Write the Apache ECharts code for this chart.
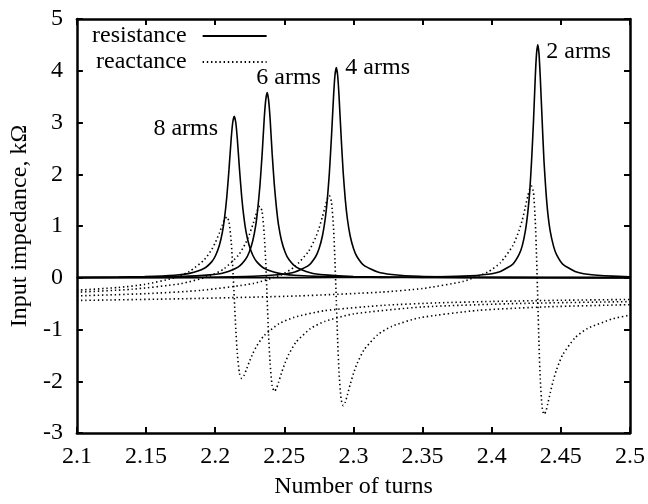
<!DOCTYPE html>
<html>
<head>
<meta charset="utf-8">
<script src="https://cdn.jsdelivr.net/npm/echarts@6/dist/echarts.min.js"></script>
<style>html,body{margin:0;padding:0;background:#fff}#c{width:648px;height:504px}</style>
</head>
<body>
<div id="c"></div>
<script>
const tickX = ['2.1','2.15','2.2','2.25','2.3','2.35','2.4','2.45','2.5'];
const tickY = ['-3','-2','-1','0','1','2','3','4','5'];

const turns8 = [2.1, 2.13, 2.149, 2.1706, 2.1814, 2.1922, 2.1976, 2.2003, 2.203, 2.2052, 2.2068, 2.2084, 2.21, 2.2116, 2.2127, 2.2138, 2.2149, 2.216, 2.2176, 2.2192, 2.2208, 2.2224, 2.2246, 2.2273, 2.23, 2.2354, 2.2462, 2.257, 2.2786, 2.3218, 2.36, 2.4, 2.45, 2.5];
const res8 = [0.007, 0.013, 0.022, 0.048, 0.084, 0.183, 0.312, 0.430, 0.624, 0.876, 1.160, 1.560, 2.094, 2.690, 3.000, 3.120, 3.000, 2.690, 2.094, 1.560, 1.160, 0.876, 0.624, 0.430, 0.312, 0.183, 0.084, 0.048, 0.022, 0.008, 0.004, 0.003, 0.002, 0.001];
const rea8 = [-0.242, -0.188, -0.128, -0.001, 0.122, 0.350, 0.552, 0.692, 0.864, 1.018, 1.124, 1.176, 1.082, 0.692, 0.216, -0.384, -0.984, -1.460, -1.850, -1.944, -1.892, -1.786, -1.632, -1.460, -1.320, -1.117, -0.888, -0.766, -0.638, -0.533, -0.486, -0.458, -0.435, -0.419];

const turns6 = [2.1, 2.14, 2.1752, 2.196, 2.2064, 2.2168, 2.222, 2.2246, 2.2272, 2.2293, 2.2308, 2.2324, 2.234, 2.2355, 2.2366, 2.2376, 2.2386, 2.2397, 2.2412, 2.2428, 2.2444, 2.2459, 2.248, 2.2506, 2.2532, 2.2584, 2.2688, 2.2792, 2.3, 2.35, 2.42, 2.5];
const res6 = [0.005, 0.010, 0.025, 0.055, 0.097, 0.211, 0.358, 0.494, 0.716, 1.006, 1.331, 1.790, 2.403, 3.086, 3.442, 3.580, 3.442, 3.086, 2.403, 1.790, 1.331, 1.006, 0.716, 0.494, 0.358, 0.211, 0.097, 0.055, 0.025, 0.008, 0.003, 0.001];
const rea6 = [-0.280, -0.222, -0.114, 0.033, 0.174, 0.435, 0.667, 0.827, 1.025, 1.202, 1.323, 1.383, 1.275, 0.827, 0.281, -0.406, -1.094, -1.640, -2.088, -2.196, -2.136, -2.015, -1.838, -1.640, -1.480, -1.247, -0.985, -0.844, -0.699, -0.564, -0.497, -0.461];

const turns4 = [2.1, 2.15, 2.19, 2.2276, 2.2476, 2.2576, 2.2676, 2.2726, 2.2751, 2.2776, 2.2796, 2.2811, 2.2826, 2.2841, 2.2856, 2.2866, 2.2876, 2.2886, 2.2896, 2.2911, 2.2926, 2.2941, 2.2956, 2.2976, 2.3001, 2.3026, 2.3076, 2.3176, 2.3276, 2.3476, 2.39, 2.44, 2.5];
const res4 = [0.003, 0.005, 0.011, 0.028, 0.063, 0.110, 0.239, 0.406, 0.560, 0.812, 1.140, 1.509, 2.030, 2.725, 3.500, 3.904, 4.060, 3.904, 3.500, 2.725, 2.030, 1.509, 1.140, 0.812, 0.560, 0.406, 0.239, 0.110, 0.063, 0.028, 0.010, 0.004, 0.002];
const rea4 = [-0.350, -0.307, -0.243, -0.111, 0.055, 0.215, 0.512, 0.775, 0.957, 1.181, 1.382, 1.519, 1.587, 1.464, 0.957, 0.338, -0.442, -1.223, -1.842, -2.349, -2.472, -2.404, -2.267, -2.066, -1.842, -1.660, -1.396, -1.099, -0.940, -0.774, -0.631, -0.562, -0.520];

const turns2 = [2.1, 2.18, 2.26, 2.32, 2.35, 2.3793, 2.3973, 2.4063, 2.4153, 2.4198, 2.4221, 2.4243, 2.4261, 2.4275, 2.4288, 2.4302, 2.4315, 2.4324, 2.4333, 2.4342, 2.4351, 2.4365, 2.4378, 2.4392, 2.4405, 2.4423, 2.4446, 2.4468, 2.4513, 2.4603, 2.4693, 2.4873, 2.5];
const res2 = [0.001, 0.001, 0.003, 0.007, 0.013, 0.031, 0.069, 0.122, 0.265, 0.450, 0.621, 0.900, 1.264, 1.673, 2.250, 3.020, 3.879, 4.327, 4.500, 4.327, 3.879, 3.020, 2.250, 1.673, 1.264, 0.900, 0.621, 0.450, 0.265, 0.122, 0.069, 0.031, 0.020];
const rea2 = [-0.439, -0.404, -0.351, -0.278, -0.208, -0.071, 0.113, 0.291, 0.622, 0.914, 1.116, 1.365, 1.580, 1.715, 1.770, 1.650, 1.100, 0.425, -0.433, -1.290, -1.960, -2.510, -2.640, -2.580, -2.440, -2.225, -1.980, -1.782, -1.489, -1.158, -0.980, -0.795, -0.722];

const armLabels = ['8 arms', '6 arms', '4 arms', '2 arms'];
const armLabelX = [2.1787, 2.2531, 2.3175, 2.4628];
const armLabelY = [2.88, 3.87, 4.06, 4.37];

const FONT = 'Liberation Serif';
const pairs = (xs, ys) => xs.map((x, i) => [x, ys[i]]);

const solid = { color: '#000', width: 1.6, type: 'solid' };
const dotted = { color: '#000', width: 1.6, type: [1.4, 2.8] };

function lineSeries(name, data, style) {
  return {
    name: name, type: 'line', data: data, symbol: 'none', showSymbol: false,
    smooth: 0.2, lineStyle: style, itemStyle: { color: '#000' },
    xAxisIndex: 0, yAxisIndex: 0, silent: true, z: 3
  };
}

const axisLineStyle = { show: true, onZero: false, lineStyle: { color: '#000', width: 2.5 } };
const tickStyle = { show: true, inside: true, length: 6, lineStyle: { color: '#000', width: 2 } };
const labelStyle = { color: '#000', fontSize: 24, fontFamily: FONT };

const chart = echarts.init(document.getElementById('c'), null, { renderer: 'canvas' });
chart.setOption({
  animation: false,
  backgroundColor: '#fff',
  textStyle: { fontFamily: FONT, color: '#000' },
  grid: { left: 72, right: 17, top: 19, bottom: 67, containLabel: false },
  legend: {
    data: ['resistance', 'reactance'],
    orient: 'vertical', align: 'right', left: 92, top: 24, padding: 0,
    itemWidth: 64, itemHeight: 14, itemGap: 2,
    itemStyle: { opacity: 0 },
    textStyle: { color: '#000', fontSize: 24, fontFamily: FONT, padding: [0, 11, 0, 0] },
    selectedMode: false
  },
  xAxis: [
    {
      type: 'value', min: 2.1, max: 2.5, interval: 0.05, position: 'bottom',
      axisLine: axisLineStyle, axisTick: tickStyle, splitLine: { show: false },
      axisLabel: Object.assign({ margin: 12, formatter: v => tickX[Math.round((v - 2.1) / 0.05)] }, labelStyle),
      name: 'Number of turns', nameLocation: 'middle', nameGap: 42, nameTextStyle: labelStyle
    },
    {
      type: 'value', min: 2.1, max: 2.5, interval: 0.05, position: 'top',
      axisLine: axisLineStyle, axisTick: tickStyle, splitLine: { show: false },
      axisLabel: { show: false }
    }
  ],
  yAxis: [
    {
      type: 'value', min: -3, max: 5, interval: 1, position: 'left',
      axisLine: axisLineStyle, axisTick: tickStyle, splitLine: { show: false },
      axisLabel: Object.assign({ margin: 14, formatter: v => tickY[Math.round(v + 3)] }, labelStyle),
      name: 'Input impedance, k\u03A9', nameLocation: 'middle', nameGap: 37, nameRotate: 90, nameTextStyle: labelStyle
    },
    {
      type: 'value', min: -3, max: 5, interval: 1, position: 'right',
      axisLine: axisLineStyle, axisTick: tickStyle, splitLine: { show: false },
      axisLabel: { show: false }
    }
  ],
  series: [
    lineSeries('resistance', pairs(turns8, res8), solid),
    lineSeries('resistance', pairs(turns6, res6), solid),
    lineSeries('resistance', pairs(turns4, res4), solid),
    lineSeries('resistance', pairs(turns2, res2), solid),
    lineSeries('reactance', pairs(turns8, rea8), dotted),
    lineSeries('reactance', pairs(turns6, rea6), dotted),
    lineSeries('reactance', pairs(turns4, rea4), dotted),
    lineSeries('reactance', pairs(turns2, rea2), dotted),
    {
      name: 'labels', type: 'scatter', xAxisIndex: 0, yAxisIndex: 0, silent: true,
      symbol: 'circle', symbolSize: 1, itemStyle: { opacity: 0 },
      data: armLabels.map((t, i) => ({ value: [armLabelX[i], armLabelY[i]], name: t })),
      label: { show: true, position: 'inside', formatter: p => p.name, color: '#000', opacity: 1, textBorderWidth: 0, fontSize: 24, fontFamily: FONT }
    }
  ]
});
</script>
</body>
</html>
